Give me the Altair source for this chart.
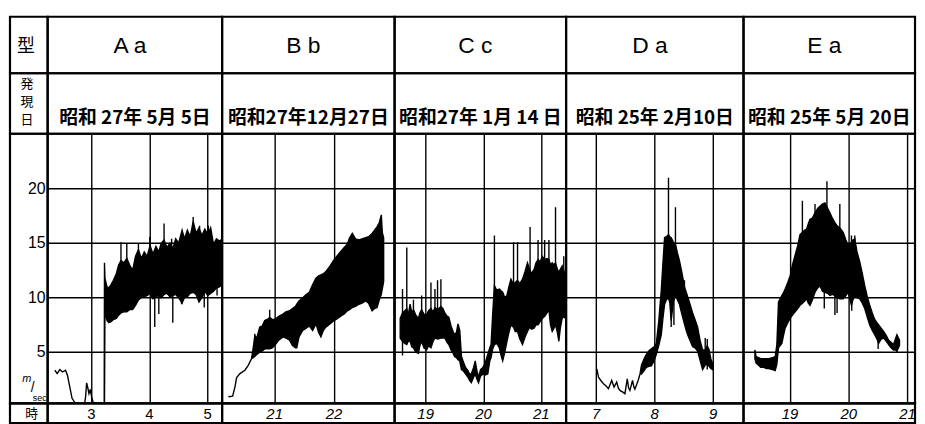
import altair as alt
import pandas as pd

# ---------------- data ----------------
TYPES = ["A a", "B b", "C c", "D a", "E a"]
DATES = ["昭和 27年 5月 5日", "昭和27年12月27日", "昭和27年 1月 14 日", "昭和 25年 2月10日", "昭和 25年 5月 20日"]
Y_TICKS = [5, 10, 15, 20]

# Panel A (hours 3-5)
A_DOMAIN = [2.251, 5.247]
A_GRID = [3, 4, 5]
A_LABELS = [3, 4, 5]
A_T = [2.375, 2.415, 2.461, 2.506, 2.557, 2.591, 2.631, 2.670, 2.727, 2.886,
       2.903, 2.920, 2.943, 2.960, 2.983, 3.005, 3.034, 3.085, 3.199, 3.222,
       3.227, 3.235, 3.27, 3.30, 3.34, 3.38, 3.43, 3.47, 3.51, 3.56,
       3.61, 3.66, 3.71, 3.76, 3.81, 3.86, 3.91, 3.96, 4.01, 4.06,
       4.11, 4.16, 4.20, 4.25, 4.30, 4.35, 4.40, 4.45, 4.50, 4.56,
       4.60, 4.65, 4.70, 4.75, 4.80, 4.85, 4.90, 4.95, 5.00, 5.05,
       5.10, 5.15, 5.20, 5.25]
A_LO = [3.34, 3.03, 3.40, 3.18, 3.34, 2.88, 1.82, 0.76, 0.3, 0.3,
        0.91, 2.18, 1.67, 1.21, 1.58, 0.91, 0.37, 0.3, 0.3, 0.3,
        0.3, 8.8, 7.9, 7.7, 7.8, 8.0, 8.1, 8.4, 8.6, 8.7,
        8.7, 8.9, 8.9, 9.3, 9.8, 10.0, 10.1, 10.2, 10.4, 9.9,
        10.1, 10.2, 10.0, 10.3, 10.4, 10.1, 10.2, 10.3, 10.0, 9.5,
        10.0, 10.1, 10.4, 10.5, 10.3, 9.6, 10.0, 10.6, 10.2, 10.4,
        10.6, 10.9, 11.0, 11.2]
A_HI = [3.34, 3.03, 3.40, 3.18, 3.34, 2.88, 1.82, 0.76, 0.3, 0.3,
        0.91, 2.18, 1.67, 1.21, 1.58, 0.91, 0.37, 0.3, 0.3, 0.3,
        13.2, 11.8, 11.0, 10.9, 11.2, 11.6, 12.2, 13.0, 13.4, 13.2,
        13.6, 13.0, 12.5, 13.8, 14.4, 13.6, 14.2, 13.8, 14.8, 14.0,
        14.7, 14.2, 15.0, 15.3, 14.6, 15.0, 14.5, 15.4, 15.0, 16.2,
        15.4, 16.2, 15.6, 17.0, 15.9, 16.4, 15.7, 16.3, 15.8, 16.4,
        14.9, 15.4, 15.2, 15.4]
A_SP_T = [3.51, 3.61, 3.81, 4.005, 4.09, 4.16, 4.25, 4.38, 4.40, 4.55, 4.75, 4.86, 4.94, 5.01, 5.16]
A_SP_LO = [12, 12, 12, 12, 7.3, 8.5, 13, 13, 7.7, 9.4, 14, 14, 9.1, 14, 10.2]
A_SP_HI = [15.1, 15.0, 15.0, 15.6, 11, 11, 16.8, 15.4, 11, 11, 17.4, 16.6, 11, 16.6, 11.5]

# Panel B (hours 21-22)
B_DOMAIN = [20.117, 23.017]
B_GRID = [21, 22, 23]
B_LABELS = [21, 22]
B_T = [20.222, 20.294, 20.333, 20.361, 20.417, 20.5, 20.556, 20.611,
       20.64, 20.667, 20.70, 20.75, 20.79, 20.833, 20.875, 20.917, 20.96, 21.0,
       21.07, 21.139, 21.19, 21.25, 21.30, 21.35, 21.372, 21.41, 21.472, 21.53,
       21.583, 21.64, 21.694, 21.74, 21.778, 21.82, 21.861, 21.93, 22.0, 22.06,
       22.111, 22.17, 22.222, 22.26, 22.306, 22.36, 22.417, 22.47, 22.528, 22.58,
       22.639, 22.68, 22.722, 22.76, 22.794, 22.81, 22.833]
B_LO = [0.91, 0.97, 1.82, 2.67, 3.03, 3.34, 3.79, 4.4,
        4.5, 4.6, 4.8, 5.0, 5.1, 5.3, 5.3, 5.3, 5.4, 5.6,
        6.1, 6.4, 6.3, 6.1, 5.6, 5.4, 5.4, 6.4, 7.0, 7.2,
        7.4, 7.0, 7.6, 6.8, 6.4, 7.0, 7.3, 7.6, 7.9, 8.1,
        8.3, 8.5, 8.8, 8.9, 9.1, 9.2, 9.4, 9.5, 9.7, 9.5,
        8.8, 9.0, 9.1, 9.8, 10.3, 10.8, 11.5]
B_HI = [0.91, 0.97, 1.82, 2.67, 3.03, 3.34, 3.79, 4.4,
        5.4, 6.5, 6.3, 7.3, 7.4, 7.9, 8.0, 8.2, 8.0, 8.0,
        8.3, 8.5, 8.7, 8.8, 9.0, 9.2, 9.4, 9.7, 10.0, 10.3,
        10.5, 11.2, 11.8, 12.0, 12.1, 12.2, 12.4, 12.9, 13.5, 13.9,
        14.25, 14.6, 14.9, 15.5, 15.9, 15.4, 15.3, 15.4, 15.5, 15.6,
        15.9, 16.2, 16.5, 16.9, 17.6, 16.0, 15.5]
B_SP_T = [20.667, 20.917]
B_SP_LO = [5.5, 7.5]
B_SP_HI = [6.7, 8.9]

# Panel C (hours 19-21)
C_DOMAIN = [18.463, 21.43]
C_GRID = [19, 20, 21]
C_LABELS = [19, 20, 21]
C_T = [18.56, 18.60, 18.64, 18.674, 18.70, 18.731, 18.76, 18.789, 18.83, 18.875,
       18.90, 18.931, 18.97, 19.017, 19.05, 19.092, 19.13, 19.161, 19.21, 19.264,
       19.30, 19.332, 19.37, 19.401, 19.44, 19.475, 19.50, 19.532, 19.56, 19.590,
       19.62, 19.647, 19.69, 19.732, 19.76, 19.790, 19.83, 19.858, 19.89, 19.915,
       19.95, 19.990, 20.03, 20.075, 20.11, 20.132, 20.16, 20.190, 20.23, 20.276,
       20.31, 20.333, 20.37, 20.407, 20.44, 20.476, 20.52, 20.55, 20.590, 20.63,
       20.676, 20.72, 20.762, 20.80, 20.83, 20.876, 20.91, 20.945, 20.98, 21.019,
       21.06, 21.10, 21.133, 21.16, 21.190, 21.22, 21.247, 21.28, 21.305, 21.33,
       21.362, 21.39, 21.43]
C_LO = [6.3, 6.0, 5.8, 5.7, 6.0, 6.0, 5.5, 5.4, 5.0, 4.9,
        5.6, 6.0, 5.4, 5.2, 5.6, 5.4, 6.0, 6.3, 6.2, 6.3,
        6.3, 6.3, 5.9, 5.7, 5.2, 4.9, 4.6, 4.5, 4.3, 4.2,
        3.4, 3.3, 3.0, 2.7, 2.4, 2.2, 2.7, 3.0, 2.5, 2.2,
        2.8, 3.0, 2.9, 3.0, 4.2, 4.5, 5.3, 5.7, 5.8, 5.4,
        4.6, 4.2, 5.0, 6.0, 6.8, 7.5, 7.3, 6.9, 6.9, 6.2,
        5.7, 6.4, 6.9, 7.3, 7.1, 7.2, 7.5, 7.5, 7.8, 8.1,
        8.3, 8.6, 8.9, 7.5, 6.9, 7.2, 7.5, 6.8, 6.0, 7.2,
        8.1, 8.3, 8.0]
C_HI = [8.1, 8.6, 8.8, 9.0, 8.4, 9.4, 8.6, 8.9, 8.4, 8.1,
        8.6, 8.9, 8.5, 8.4, 8.8, 9.0, 8.7, 9.1, 8.9, 9.2,
        9.0, 8.6, 8.3, 8.2, 7.4, 6.9, 6.6, 6.8, 7.6, 7.0,
        4.6, 4.2, 3.6, 3.3, 3.0, 3.0, 3.6, 4.2, 3.2, 2.7,
        3.4, 3.6, 4.0, 4.8, 5.4, 5.7, 8.5, 11.1, 10.7, 10.8,
        10.6, 10.5, 10.0, 10.2, 11.0, 11.7, 11.2, 11.4, 11.6, 11.3,
        11.7, 12.4, 13.2, 12.6, 12.2, 12.6, 13.2, 13.5, 13.3, 13.8,
        13.5, 13.6, 13.5, 13.0, 13.2, 13.0, 13.2, 12.6, 12.3, 12.6,
        12.9, 12.0, 12.8]
C_SP_T = [18.60, 18.674, 18.789, 18.931, 19.092, 19.161, 19.206, 19.264, 20.190,
          20.521, 20.590, 20.807, 20.945, 21.059, 21.133, 21.247, 21.39]
C_SP_LO = [4.7, 8.0, 8.0, 8.0, 8.0, 8.0, 8.0, 8.0, 10.0, 10.0, 10.0, 11.0, 12.0, 12.0, 12.0, 12.0, 11.0]
C_SP_HI = [10.8, 14.6, 9.8, 10.2, 11.4, 10.8, 11.6, 11.7, 15.7, 15.1, 15.1, 16.5, 15.3, 15.3, 15.3, 18.3, 13.8]

# Panel D (hours 7-9)
D_DOMAIN = [6.486, 9.52]
D_GRID = [7, 8, 9]
D_LABELS = [7, 8, 9]
D_T = [7.012, 7.040, 7.08, 7.125, 7.17, 7.210, 7.266, 7.306, 7.351, 7.38,
       7.407, 7.45, 7.492, 7.532, 7.555, 7.577, 7.622, 7.645, 7.662, 7.718,
       7.75, 7.775, 7.82, 7.859, 7.90, 7.944, 7.99, 8.029, 8.07, 8.114,
       8.14, 8.170, 8.20, 8.237, 8.26, 8.283, 8.32, 8.356, 8.39, 8.424,
       8.47, 8.509, 8.54, 8.565, 8.61, 8.650, 8.69, 8.735, 8.78, 8.820,
       8.865, 8.90, 8.932, 8.96, 8.989]
D_LO = [3.46, 2.70, 2.4, 2.10, 1.9, 1.64, 2.40, 1.80, 2.25, 1.7,
        1.49, 1.35, 1.19, 2.55, 1.7, 1.49, 2.40, 1.8, 1.60, 2.4,
        3.0, 3.0, 3.3, 3.6, 3.7, 3.75, 4.2, 4.8, 5.6, 6.6,
        8.0, 9.4, 9.8, 10.0, 9.5, 7.9, 9.6, 10.3, 9.8, 9.4,
        8.4, 7.6, 7.0, 6.6, 6.0, 5.5, 5.4, 5.1, 4.2, 3.4,
        3.8, 3.9, 3.7, 3.5, 3.4]
D_HI = [3.46, 2.70, 2.4, 2.10, 1.9, 1.64, 2.40, 1.80, 2.25, 1.7,
        1.49, 1.35, 1.19, 2.55, 1.7, 1.49, 2.40, 1.8, 1.60, 2.4,
        3.0, 3.8, 4.4, 4.8, 5.1, 5.3, 5.5, 5.8, 7.8, 10.7,
        13.0, 15.5, 15.6, 15.8, 15.6, 15.5, 15.1, 14.9, 14.1, 13.4,
        12.2, 11.0, 10.5, 10.1, 9.3, 8.6, 8.0, 7.3, 6.0, 5.2,
        5.2, 5.6, 5.2, 4.4, 4.0]
D_SP_T = [8.237, 8.356, 8.283, 8.33, 8.51, 8.865, 8.90]
D_SP_LO = [14, 13, 7.3, 7.5, 9, 5, 3.4]
D_SP_HI = [21.0, 18.3, 10, 10, 11.6, 6.3, 6.2]

# Panel E (hours 19-21)
E_DOMAIN = [18.206, 21.128]
E_GRID = [19, 20, 21]
E_LABELS = [19, 20, 21]
E_T = [18.40, 18.42, 18.463, 18.50, 18.548, 18.60, 18.633, 18.70, 18.746, 18.774,
       18.802, 18.83, 18.859, 18.89, 18.915, 18.96, 19.0, 19.04, 19.085, 19.13,
       19.169, 19.21, 19.25, 19.282, 19.31, 19.339, 19.38, 19.424, 19.47, 19.508,
       19.55, 19.593, 19.64, 19.678, 19.72, 19.763, 19.80, 19.847, 19.904, 19.95,
       19.989, 20.045, 20.07, 20.102, 20.14, 20.186, 20.23, 20.271, 20.31, 20.356,
       20.40, 20.441, 20.48, 20.508, 20.55, 20.593, 20.64, 20.678, 20.72, 20.763,
       20.80, 20.819, 20.864]
E_LO = [4.4, 4.0, 3.8, 3.6, 3.6, 3.5, 3.5, 3.4, 3.3, 3.9,
        5.4, 5.6, 5.8, 6.6, 7.2, 7.7, 8.1, 8.4, 8.7, 9.0,
        9.3, 9.5, 9.7, 9.9, 9.5, 9.3, 9.8, 10.5, 10.9, 11.1,
        10.6, 10.5, 10.4, 10.2, 10.3, 10.2, 10.0, 9.9, 9.9, 10.2,
        10.5, 9.3, 9.8, 10.2, 10.0, 9.9, 9.5, 9.0, 8.3, 7.5,
        7.0, 6.6, 6.2, 5.8, 6.2, 6.3, 6.0, 5.7, 5.4, 5.2,
        5.2, 5.1, 5.6]
E_HI = [5.2, 4.6, 4.5, 4.4, 4.4, 4.4, 4.4, 4.5, 4.6, 5.7,
        9.6, 9.9, 10.2, 10.5, 10.8, 11.4, 12.0, 13.0, 13.9, 14.8,
        15.8, 16.0, 16.2, 16.3, 16.8, 17.2, 17.3, 17.8, 18.2, 18.4,
        18.6, 18.7, 18.2, 17.8, 17.3, 16.9, 16.6, 16.4, 16.0, 15.3,
        14.8, 15.1, 15.3, 15.4, 14.2, 13.3, 12.2, 11.1, 10.2, 9.3,
        8.6, 8.0, 7.7, 7.5, 7.2, 6.9, 6.5, 6.1, 5.9, 5.7,
        6.3, 6.6, 6.1]
E_SP_T = [19.209, 19.424, 19.627, 19.847, 20.045, 20.102, 19.582, 19.763, 19.80, 20.05, 20.50, 20.82]
E_SP_LO = [14, 14, 15, 14, 12, 12, 9.0, 8.4, 8.6, 8.8, 5.3, 5.0]
E_SP_HI = [18.9, 18.6, 20.7, 18.6, 15.7, 15.7, 11, 10.5, 10.3, 10.3, 7, 6.5]

# ---------------- layout / style ----------------
FONT = "Liberation Sans"
JP = "Noto Sans CJK JP"
Y_DOMAIN = [0.3, 25.05]
LABEL_W = 38
WIDTHS = [176, 174, 173, 179, 173]
ROW1_H, ROW2_H, PLOT_H, ROW4_H = 57, 61, 272, 20
GRID_W = 1.4

yscale = alt.Scale(domain=Y_DOMAIN, nice=False, zero=False)


def text_cell(label, w, h, x, y, size, font, **kw):
    return (
        alt.Chart(pd.DataFrame({"s": [label]}))
        .mark_text(fontSize=size, font=font, align="center", baseline="middle", color="black", **kw)
        .encode(text="s:N", x=alt.value(x), y=alt.value(y))
        .properties(width=w, height=h)
    )


def panel_cells(i, t, lo, hi, st, slo, shi, dom, grid, labels, italic):
    w = WIDTHS[i]
    xs = alt.Scale(domain=dom, nice=False, zero=False)
    gx = alt.Axis(values=grid, grid=True, labels=False, ticks=False, domain=False, title=None,
                  gridColor="black", gridWidth=GRID_W, gridOpacity=1)
    gy = alt.Axis(values=Y_TICKS, grid=True, labels=False, ticks=False, domain=False, title=None,
                  gridColor="black", gridWidth=GRID_W, gridOpacity=1)
    band = pd.DataFrame({"t": t, "lo": lo, "hi": hi})
    spikes = pd.DataFrame({"t": st, "lo": slo, "hi": shi})
    area = alt.Chart(band).mark_area(
        orient="vertical", color="black", stroke="black", strokeWidth=1.4, clip=True
    ).encode(
        x=alt.X("t:Q", scale=xs, axis=gx),
        y=alt.Y("lo:Q", scale=yscale, axis=gy),
        y2="hi:Q",
    )
    rules = alt.Chart(spikes).mark_rule(color="black", strokeWidth=1.4, clip=True).encode(
        x=alt.X("t:Q", scale=xs, axis=gx),
        y=alt.Y("lo:Q", scale=yscale, axis=gy),
        y2="hi:Q",
    )
    plot = alt.layer(area, rules).properties(width=w, height=PLOT_H)

    type_cell = text_cell(TYPES[i], w, ROW1_H, w / 2 - 5, 30, 23, FONT)
    date_cell = text_cell(DATES[i], w, ROW2_H, w / 2, 45, 19, JP, fontWeight="bold")
    hour_cell = (
        alt.Chart(pd.DataFrame({"h": labels}))
        .mark_text(fontSize=15, font=FONT, fontStyle="italic" if italic else "normal",
                   baseline="middle", align="center", color="black")
        .encode(x=alt.X("h:Q", scale=xs, axis=None), y=alt.value(11), text="h:Q")
        .properties(width=w, height=ROW4_H)
    )
    return [type_cell, date_cell, plot, hour_cell]


# label column
lab_type = text_cell("型", LABEL_W, ROW1_H, 16, 31, 18, JP)
lab_date = alt.layer(
    text_cell("発", LABEL_W, ROW2_H, 17, 11, 13, JP),
    text_cell("現", LABEL_W, ROW2_H, 17, 29, 13, JP),
    text_cell("日", LABEL_W, ROW2_H, 17, 47, 13, JP),
).properties(width=LABEL_W, height=ROW2_H)
ylab = (
    alt.Chart(pd.DataFrame({"v": Y_TICKS}))
    .mark_text(align="right", baseline="middle", fontSize=16, font=FONT, color="black")
    .encode(y=alt.Y("v:Q", scale=yscale, axis=None), x=alt.value(36), text="v:Q")
)
unit_m = text_cell("m", LABEL_W, PLOT_H, 17, 247, 11, FONT, fontStyle="italic")
unit_slash = text_cell("/", LABEL_W, PLOT_H, 23, 257, 14, FONT)
unit_sec = text_cell("sec", LABEL_W, PLOT_H, 30, 267, 9, FONT)
lab_plot = alt.layer(ylab, unit_m, unit_slash, unit_sec).properties(width=LABEL_W, height=PLOT_H)
lab_hour = text_cell("時", LABEL_W, ROW4_H, 22, 11, 13, JP)

columns = [
    [lab_type, lab_date, lab_plot, lab_hour],
    panel_cells(0, A_T, A_LO, A_HI, A_SP_T, A_SP_LO, A_SP_HI, A_DOMAIN, A_GRID, A_LABELS, False),
    panel_cells(1, B_T, B_LO, B_HI, B_SP_T, B_SP_LO, B_SP_HI, B_DOMAIN, B_GRID, B_LABELS, True),
    panel_cells(2, C_T, C_LO, C_HI, C_SP_T, C_SP_LO, C_SP_HI, C_DOMAIN, C_GRID, C_LABELS, True),
    panel_cells(3, D_T, D_LO, D_HI, D_SP_T, D_SP_LO, D_SP_HI, D_DOMAIN, D_GRID, D_LABELS, True),
    panel_cells(4, E_T, E_LO, E_HI, E_SP_T, E_SP_LO, E_SP_HI, E_DOMAIN, E_GRID, E_LABELS, True),
]
cells = [col[r] for r in range(4) for col in columns]

chart = (
    alt.concat(*cells, columns=6, spacing=0, bounds="flush")
    .properties(padding={"left": 0, "top": 5, "right": 0, "bottom": 0}, background="white")
    .configure_view(stroke="black", strokeWidth=2.2)
)

chart.save("out.html", embed_options={"renderer": "svg", "actions": False})
